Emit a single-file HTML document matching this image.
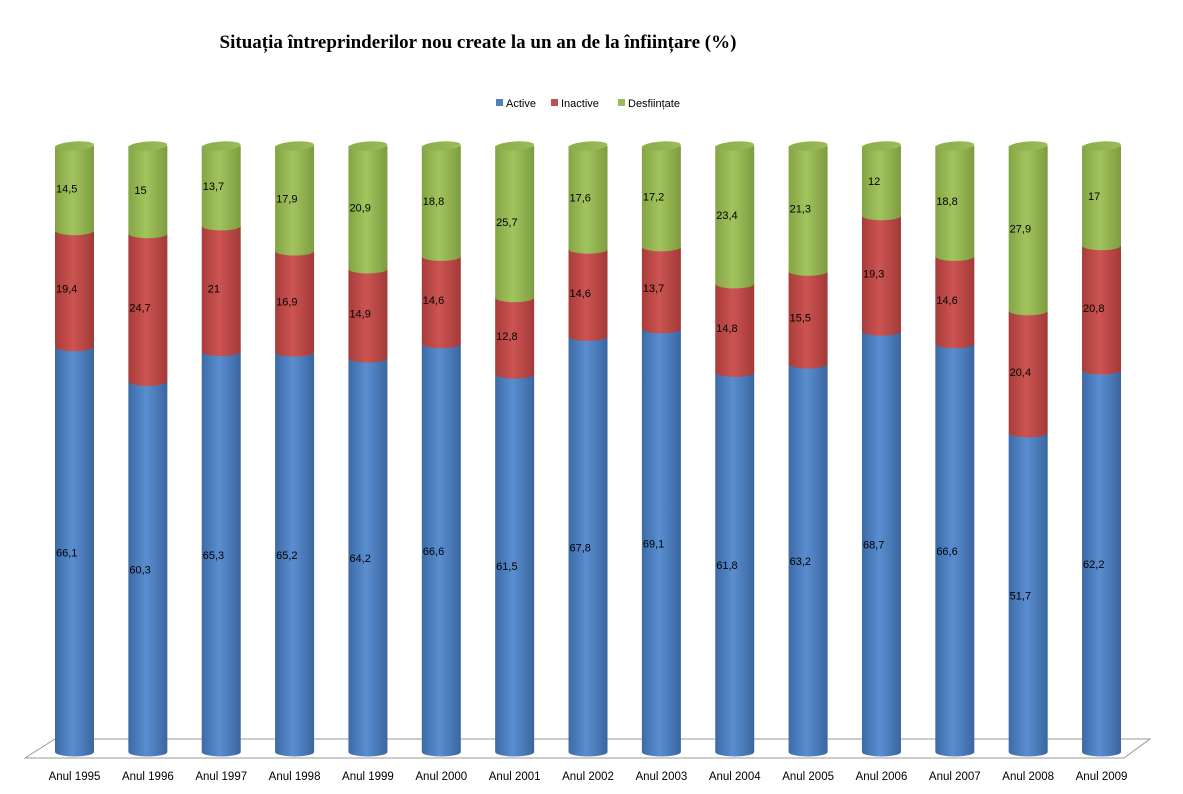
<!DOCTYPE html>
<html><head><meta charset="utf-8"><style>
body{margin:0;background:#fff;}
svg{display:block;font-family:"Liberation Sans",sans-serif;}
</style></head><body>
<svg id="s" width="1183" height="794" viewBox="0 0 1183 794">
<defs>
<linearGradient id="gb" x1="0" x2="1"><stop offset="0" stop-color="#3c6aa6"/><stop offset="0.45" stop-color="#5a8ed0"/><stop offset="1" stop-color="#3a66a0"/></linearGradient>
<linearGradient id="gr" x1="0" x2="1"><stop offset="0" stop-color="#a83c3a"/><stop offset="0.45" stop-color="#cc5452"/><stop offset="1" stop-color="#a23a38"/></linearGradient>
<linearGradient id="gg" x1="0" x2="1"><stop offset="0" stop-color="#84a444"/><stop offset="0.45" stop-color="#a2c45e"/><stop offset="1" stop-color="#7e9c40"/></linearGradient>
<linearGradient id="gt" x1="0" x2="1"><stop offset="0" stop-color="#8cac4a"/><stop offset="1" stop-color="#9cbc58"/></linearGradient>
</defs>
<text x="478" y="48" text-anchor="middle" font-family="Liberation Serif, serif" font-weight="bold" font-size="19">Situația întreprinderilor nou create la un an de la înființare (%)</text>
<rect x="496" y="99" width="7" height="7" fill="#4f81bd"/><text x="506" y="107" font-size="11">Active</text>
<rect x="551" y="99" width="7" height="7" fill="#c0504d"/><text x="561" y="107" font-size="11">Inactive</text>
<rect x="618" y="99" width="7" height="7" fill="#9bbb59"/><text x="628" y="107" font-size="11">Desființate</text>
<polygon points="25,758 55,739 1150,739 1124,758" fill="none" stroke="#999" stroke-width="1"/>
<g id="bars"></g>
<g id="labels" font-size="11" fill="#000">
<text>14,5</text><text>19,4</text><text>66,1</text>
<text>15</text><text>24,7</text><text>60,3</text>
<text>13,7</text><text>21</text><text>65,3</text>
<text>17,9</text><text>16,9</text><text>65,2</text>
<text>20,9</text><text>14,9</text><text>64,2</text>
<text>18,8</text><text>14,6</text><text>66,6</text>
<text>25,7</text><text>12,8</text><text>61,5</text>
<text>17,6</text><text>14,6</text><text>67,8</text>
<text>17,2</text><text>13,7</text><text>69,1</text>
<text>23,4</text><text>14,8</text><text>61,8</text>
<text>21,3</text><text>15,5</text><text>63,2</text>
<text>12</text><text>19,3</text><text>68,7</text>
<text>18,8</text><text>14,6</text><text>66,6</text>
<text>27,9</text><text>20,4</text><text>51,7</text>
<text>17</text><text>20,8</text><text>62,2</text>
</g>
<g id="cats" font-size="11.5" text-anchor="middle">
<text>Anul 1995</text><text>Anul 1996</text><text>Anul 1997</text><text>Anul 1998</text><text>Anul 1999</text><text>Anul 2000</text><text>Anul 2001</text><text>Anul 2002</text><text>Anul 2003</text><text>Anul 2004</text><text>Anul 2005</text><text>Anul 2006</text><text>Anul 2007</text><text>Anul 2008</text><text>Anul 2009</text>
</g>
</svg>
<script>
var D=[[66.1,19.4,14.5],[60.3,24.7,15],[65.3,21,13.7],[65.2,16.9,17.9],[64.2,14.9,20.9],[66.6,14.6,18.8],[61.5,12.8,25.7],[67.8,14.6,17.6],[69.1,13.7,17.2],[61.8,14.8,23.4],[63.2,15.5,21.3],[68.7,19.3,12],[66.6,14.6,18.8],[51.7,20.4,27.9],[62.2,20.8,17]];
var NS="http://www.w3.org/2000/svg",g=document.getElementById("bars");
var lab=document.getElementById("labels").children,cat=document.getElementById("cats").children;
var T=146,B=752,S=5.98,W=39,RY=4.5;
function seg(x,y0,y1,f){
 var rx=W/2;
 var p=document.createElementNS(NS,"path");
 p.setAttribute("d","M"+x+","+y0+" L"+(x+W)+","+y0+" L"+(x+W)+","+y1+" A"+rx+","+RY+" 0 0 1 "+x+","+y1+" Z");
 p.setAttribute("fill",f);g.appendChild(p);
}
D.forEach(function(d,i){
 var x=55+i*73.36,a=d[0],n=d[1],z=d[2];
 var yg=T+z*S-2,yr=T+(z+n)*S-2;
 seg(x,yr,B,"url(#gb)");
 seg(x,yg,yr,"url(#gr)");
 seg(x,T,yg,"url(#gg)");
 var e=document.createElementNS(NS,"ellipse");
 e.setAttribute("cx",x+W/2);e.setAttribute("cy",T);e.setAttribute("rx",W/2);e.setAttribute("ry",RY);
 e.setAttribute("fill","url(#gt)");e.setAttribute("transform","rotate(-4 "+(x+W/2)+" "+T+")");g.appendChild(e);
 var ys=[(T+yg)/2,(yg+yr)/2,(yr+B)/2+3];
 for(var k=0;k<3;k++){var t=lab[i*3+k];t.setAttribute("x",x+(t.textContent.length<3?6:1));t.setAttribute("y",ys[k]+4);}
 cat[i].setAttribute("x",x+W/2);cat[i].setAttribute("y",780);
});
</script>
</body></html>
